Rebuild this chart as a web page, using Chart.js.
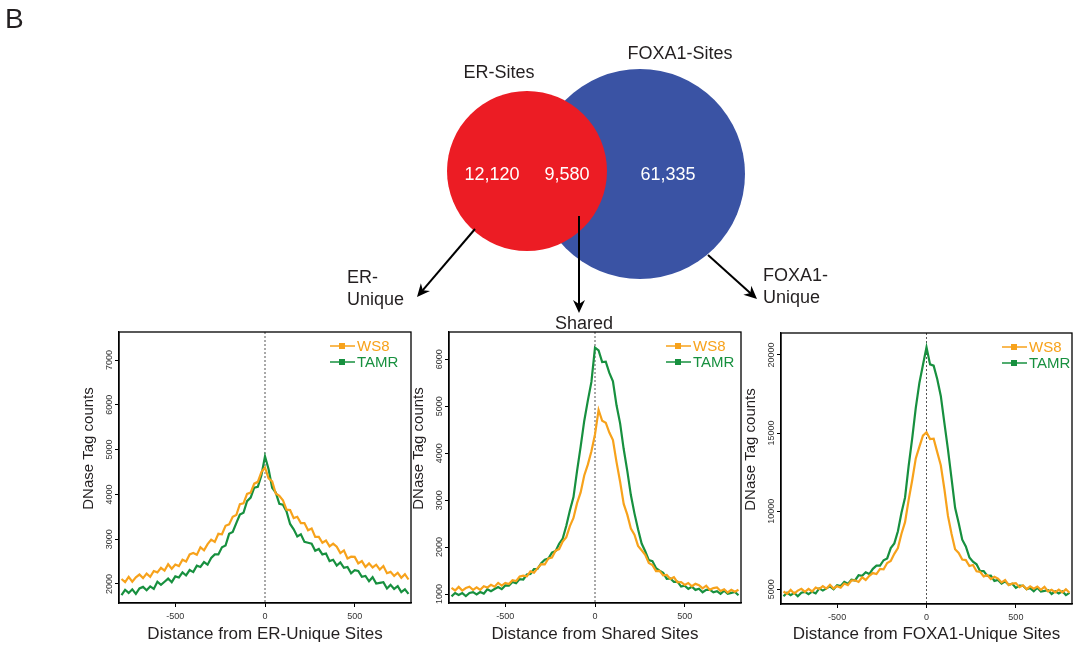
<!DOCTYPE html>
<html>
<head>
<meta charset="utf-8">
<script src="https://cdn.jsdelivr.net/npm/chart.js@4.4.0/dist/chart.umd.min.js"></script>
<style>
  body { margin: 0; background: #fff; width: 1073px; height: 648px; overflow: hidden; position: relative; }
  canvas { position: absolute; }
</style>
</head>
<body>
<canvas id="venn"></canvas>
<canvas id="c1"></canvas>
<canvas id="c2"></canvas>
<canvas id="c3"></canvas>
<script>
// distance from site centre (bp), shared by the three profiles
const distance = [-800,-780,-760,-740,-720,-700,-680,-660,-640,-620,-600,-580,-560,-540,-520,-500,-480,-460,-440,-420,
  -400,-380,-360,-340,-320,-300,-280,-260,-240,-220,-200,-180,-160,-140,-120,-100,-80,-60,-40,-20,
  0,20,40,60,80,100,120,140,160,180,200,220,240,260,280,300,320,340,360,380,
  400,420,440,460,480,500,520,540,560,580,600,620,640,660,680,700,720,740,760,780,800]

// ER-unique sites
const ws8Er = [2110,2040,2160,2050,2150,2210,2130,2230,2160,2290,2260,2360,2300,2440,2340,2435,2400,2540,2500,2660,
  2690,2650,2820,2750,2890,2990,2940,3120,3110,3300,3330,3500,3540,3780,3800,4010,4040,4240,4280,4500,
  4600,4360,4290,4020,3970,3870,3660,3650,3470,3500,3360,3360,3200,3240,3050,3050,2920,2970,2840,2900,
  2830,2690,2750,2570,2610,2605,2460,2510,2380,2460,2370,2430,2320,2400,2240,2270,2180,2250,2140,2220,2100]
const tamrEr = [1750,1870,1800,1880,1780,1900,1935,1860,1945,1890,2050,1980,2050,2120,2040,2170,2145,2260,2190,2310,
  2265,2410,2380,2490,2430,2580,2660,2660,2820,2860,3120,3160,3360,3550,3590,3850,3930,4150,4170,4430,
  4850,4560,4150,4040,3790,3770,3620,3340,3220,3060,3110,2940,2920,2900,2740,2780,2660,2680,2510,2540,
  2410,2480,2360,2380,2240,2310,2290,2160,2180,2060,2150,2010,2025,2040,1900,1980,1890,1950,1820,1880,1780]

// shared sites
const ws8Shared = [1130,1076,1152,1074,1127,1156,1090,1143,1088,1164,1138,1196,1157,1238,1180,1236,1214,1294,1276,1372,
  1390,1376,1482,1454,1552,1636,1630,1758,1778,1924,1958,2116,2212,2448,2620,2936,3164,3524,3756,4042,
  4400,4920,4690,4650,4440,4280,3810,3390,2920,2690,2396,2262,2024,1932,1836,1660,1618,1488,1494,1398,
  1406,1322,1358,1250,1256,1194,1234,1166,1217,1190,1121,1177,1089,1127,1141,1065,1103,1033,1089,1048,1091]
const tamrShared = [950,1021,978,1019,958,1023,1040,991,1042,1009,1102,1062,1106,1150,1104,1184,1178,1256,1230,1318,
  1310,1416,1428,1534,1538,1658,1730,1756,1882,1914,2072,2182,2456,2780,3064,3624,4138,4686,5120,5518,
  6250,6190,5940,5950,5710,5530,5020,4636,4088,3624,3108,2718,2380,2076,1912,1724,1702,1552,1496,1450,
  1324,1334,1258,1266,1160,1178,1110,1156,1088,1114,1038,1088,1095,1036,1062,1004,1072,1007,1026,1045,974]

// FOXA1-unique sites
const ws8Foxa = [4860,4710,4960,4730,4920,5030,4840,5030,4860,5110,5020,5210,5050,5290,5050,5200,5110,5370,5270,5560,
  5580,5470,5770,5600,5860,6040,5980,6310,6280,6680,6810,7270,7640,8560,9300,10720,11980,13380,14120,14840,
  15050,14620,14640,13780,12940,11420,9700,8560,7560,7330,6910,6870,6490,6560,6150,6120,5830,5910,5660,5800,
  5690,5440,5590,5270,5370,5400,5140,5260,5010,5190,5040,5180,4970,5160,4870,4970,4800,4980,4800,5000,4780]
const tamrFoxa = [4550,4780,4630,4770,4560,4780,4840,4690,4850,4740,5060,4920,5060,5190,5010,5260,5210,5470,5350,5620,
  5570,5900,5860,6090,5980,6310,6520,6520,6860,6980,7640,7940,8720,9900,10880,12880,14660,16620,18200,19360,
  20500,19400,19320,18460,17380,15660,13960,12100,10220,9240,8180,7740,7040,6770,6600,6160,6160,5860,5880,5540,
  5600,5360,5510,5290,5360,5090,5240,5230,5000,5080,4880,5100,4860,4900,4950,4700,4870,4730,4870,4630,4770]

const seriesNames = ['WS8', 'TAMR']
const xTicks = [-500, 0, 500]
const yTicksEr = [2000, 3000, 4000, 5000, 6000, 7000]
const yTicksShared = [1000, 2000, 3000, 4000, 5000, 6000]
const yTicksFoxa = [5000, 10000, 15000, 20000]
const xTitles = ['Distance from ER-Unique Sites', 'Distance from Shared Sites', 'Distance from FOXA1-Unique Sites']
const yTitle = 'DNase Tag counts'

const vennLabels = ['ER-Sites', 'FOXA1-Sites']
const vennCounts = [12120, 9580, 61335]   // ER only, shared, FOXA1 only
const arrowLabels = [['ER-', 'Unique'], ['Shared'], ['FOXA1-', 'Unique']]

const ORANGE = '#f7a21b', GREEN = '#17903f', RED = '#ec1c24', BLUE = '#3a53a4', INK = '#231f20'
const FONT = '"Liberation Sans", Arial, sans-serif'

// ---------- Venn diagram ----------
const vennLayout = { er: { x: 527, y: 171, r: 80 }, foxa: { x: 640, y: 174, r: 105 } }

function arrow(ctx, x1, y1, x2, y2) {
  const a = Math.atan2(y2 - y1, x2 - x1)
  ctx.beginPath()
  ctx.moveTo(x1, y1)
  ctx.lineTo(x2 - 8 * Math.cos(a), y2 - 8 * Math.sin(a))
  ctx.stroke()
  ctx.save()
  ctx.translate(x2, y2)
  ctx.rotate(a)
  ctx.beginPath()
  ctx.moveTo(0, 0)
  ctx.lineTo(-13, -6)
  ctx.lineTo(-9, 0)
  ctx.lineTo(-13, 6)
  ctx.closePath()
  ctx.fill()
  ctx.restore()
}

const vennText = {
  id: 'vennText',
  afterDraw(chart) {
    const ctx = chart.ctx
    const sx = chart.scales.x, sy = chart.scales.y
    const px = v => sx.getPixelForValue(v), py = v => sy.getPixelForValue(v)
    const er = vennLayout.er, fx = vennLayout.foxa
    ctx.save()
    ctx.fillStyle = INK
    ctx.font = '28px ' + FONT
    ctx.textAlign = 'left'
    ctx.textBaseline = 'alphabetic'
    ctx.fillText('B', 5, 28)

    ctx.font = '18px ' + FONT
    ctx.textAlign = 'center'
    ctx.fillText(vennLabels[0], px(er.x - 28), py(er.y - 93))
    ctx.fillText(vennLabels[1], px(fx.x + 40), py(fx.y - 115))

    ctx.fillStyle = '#fff'
    const fmt = n => n.toLocaleString('en-US')
    ctx.fillText(fmt(vennCounts[0]), px(er.x - 35), py(er.y + 9))
    ctx.fillText(fmt(vennCounts[1]), px(er.x + 40), py(er.y + 9))
    ctx.fillText(fmt(vennCounts[2]), px(fx.x + 28), py(fx.y + 6))

    ctx.strokeStyle = '#000'
    ctx.fillStyle = '#000'
    ctx.lineWidth = 2
    arrow(ctx, 475, 229, 417, 297)
    arrow(ctx, 579, 216, 579, 313)
    arrow(ctx, 708, 255, 757, 299)

    ctx.fillStyle = INK
    ctx.textAlign = 'left'
    ctx.fillText(arrowLabels[0][0], 347, 283)
    ctx.fillText(arrowLabels[0][1], 347, 305)
    ctx.textAlign = 'center'
    ctx.fillText(arrowLabels[1][0], 584, 329)
    ctx.textAlign = 'left'
    ctx.fillText(arrowLabels[2][0], 763, 281)
    ctx.fillText(arrowLabels[2][1], 763, 303)
    ctx.restore()
  }
}

const vennCanvas = document.getElementById('venn')
vennCanvas.width = 1073
vennCanvas.height = 335
vennCanvas.style.left = '0px'
vennCanvas.style.top = '0px'
new Chart(vennCanvas, {
  type: 'bubble',
  data: {
    datasets: [
      { label: vennLabels[0], data: [vennLayout.er], backgroundColor: RED, borderWidth: 0, clip: false },
      { label: vennLabels[1], data: [vennLayout.foxa], backgroundColor: BLUE, borderWidth: 0, clip: false }
    ]
  },
  options: {
    responsive: false,
    animation: false,
    devicePixelRatio: 1,
    layout: { padding: 0, autoPadding: false },
    plugins: { legend: { display: false }, tooltip: { enabled: false } },
    scales: {
      x: { display: false, min: 0, max: 1073 },
      y: { display: false, min: 0, max: 335, reverse: true }
    }
  },
  plugins: [vennText]
})

// ---------- DNase profiles ----------
const panels = [
  { id: 'c1', box: [119, 332, 411, 603], ws8: ws8Er, tamr: tamrEr, yMin: 1575, yMax: 7626, yTicks: yTicksEr, title: xTitles[0], legendDx: 54 },
  { id: 'c2', box: [449, 332, 741, 603], ws8: ws8Shared, tamr: tamrShared, yMin: 809, yMax: 6581, yTicks: yTicksShared, title: xTitles[1], legendDx: 48 },
  { id: 'c3', box: [781, 333, 1072, 604], ws8: ws8Foxa, tamr: tamrFoxa, yMin: 4060, yMax: 21407, yTicks: yTicksFoxa, title: xTitles[2], legendDx: 43 }
]

function deco(p) {
  return {
    id: 'deco',
    beforeDatasetsDraw(chart) {
      const { ctx, chartArea: a, scales: { x } } = chart
      const x0 = x.getPixelForValue(0)
      ctx.save()
      ctx.strokeStyle = '#555'
      ctx.lineWidth = 1
      ctx.setLineDash([2, 2])
      ctx.beginPath()
      ctx.moveTo(x0, a.top)
      ctx.lineTo(x0, a.bottom)
      ctx.stroke()
      ctx.restore()
    },
    afterDraw(chart) {
      const { ctx, chartArea: a, scales: { y } } = chart
      ctx.save()
      ctx.strokeStyle = '#000'
      ctx.lineWidth = 1.3
      ctx.strokeRect(a.left, a.top, a.right - a.left, a.bottom - a.top)

      // y tick labels, turned like R's las=0
      ctx.fillStyle = '#333'
      ctx.font = '9px ' + FONT
      ctx.textAlign = 'center'
      ctx.textBaseline = 'bottom'
      y.ticks.forEach(t => {
        ctx.save()
        ctx.translate(a.left - 5, y.getPixelForValue(t.value))
        ctx.rotate(-Math.PI / 2)
        ctx.fillText(String(t.value), 0, 0)
        ctx.restore()
      })

      ctx.fillStyle = INK
      ctx.font = '15px ' + FONT
      ctx.textBaseline = 'middle'
      ctx.save()
      ctx.translate(a.left - 30, (a.top + a.bottom) / 2 - 19)
      ctx.rotate(-Math.PI / 2)
      ctx.fillText(yTitle, 0, 0)
      ctx.restore()

      // legend
      const lx = a.right - p.legendDx
      ctx.textAlign = 'left'
      ;[[seriesNames[0], ORANGE, a.top + 14], [seriesNames[1], GREEN, a.top + 30]].forEach(([name, col, ly]) => {
        ctx.strokeStyle = col
        ctx.fillStyle = col
        ctx.lineWidth = 1.5
        ctx.beginPath()
        ctx.moveTo(lx - 27, ly)
        ctx.lineTo(lx - 2, ly)
        ctx.stroke()
        ctx.fillRect(lx - 18, ly - 3, 6, 6)
        ctx.font = '15px ' + FONT
        ctx.fillText(name, lx, ly + 1)
      })
      ctx.restore()
    }
  }
}

panels.forEach(p => {
  const [L, T, R, B] = p.box
  const padTop = 6, yAxisW = 50, xAxisH = 648 - B
  const cv = document.getElementById(p.id)
  cv.width = (R - L) + yAxisW + 3
  cv.height = (B - T) + padTop + xAxisH
  cv.style.left = (L - yAxisW) + 'px'
  cv.style.top = (T - padTop) + 'px'
  new Chart(cv, {
    type: 'line',
    data: {
      datasets: [
        { label: seriesNames[0], data: distance.map((d, i) => ({ x: d, y: p.ws8[i] })), borderColor: ORANGE, borderWidth: 2.2 },
        { label: seriesNames[1], data: distance.map((d, i) => ({ x: d, y: p.tamr[i] })), borderColor: GREEN, borderWidth: 2.2 }
      ]
    },
    options: {
      responsive: false,
      animation: false,
      devicePixelRatio: 1,
      elements: { point: { radius: 0 }, line: { tension: 0 } },
      layout: { padding: { top: padTop, right: 3, left: 0, bottom: 0 } },
      plugins: { legend: { display: false }, tooltip: { enabled: false } },
      scales: {
        x: {
          type: 'linear', min: -814, max: 814,
          afterFit: s => { s.height = xAxisH },
          afterBuildTicks: s => { s.ticks = xTicks.map(v => ({ value: v })) },
          grid: { drawOnChartArea: false, drawTicks: true, tickLength: 4, color: '#000' },
          border: { color: '#000', width: 1.3 },
          ticks: { color: '#333', font: { size: 9, family: FONT }, padding: 4, maxRotation: 0, callback: v => String(v) },
          title: { display: true, text: p.title, color: INK, font: { size: 17, family: FONT }, padding: { top: 0, bottom: 3 } }
        },
        y: {
          min: p.yMin, max: p.yMax,
          afterFit: s => { s.width = yAxisW },
          afterBuildTicks: s => { s.ticks = p.yTicks.map(v => ({ value: v })) },
          grid: { drawOnChartArea: false, drawTicks: true, tickLength: 4, color: '#000' },
          border: { color: '#000', width: 1.3 },
          ticks: { display: false }
        }
      }
    },
    plugins: [deco(p)]
  })
})
</script>
</body>
</html>
